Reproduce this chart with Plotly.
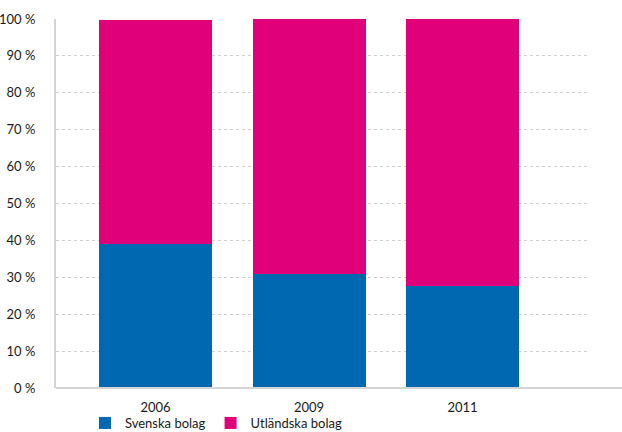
import plotly.graph_objects as go

years = ["2006", "2009", "2011"]
svenska = [39.1, 31.0, 27.6]
utlandska = [60.6, 69.0, 72.4]
y_ticks = [0, 10, 20, 30, 40, 50, 60, 70, 80, 90, 100]
y_labels = [f"{v} %" for v in y_ticks]

BLUE = "#0068B0"
MAGENTA = "#E0007A"
FONT = "Lato, 'Open Sans', sans-serif"

fig = go.Figure()
fig.add_trace(go.Bar(x=years, y=svenska, name="Svenska bolag", marker_color=BLUE,
                     marker_line_width=0, width=0.736))
fig.add_trace(go.Bar(x=years, y=utlandska, name="Utländska bolag", marker_color=MAGENTA,
                     marker_line_width=0, width=0.736))

fig.update_layout(
    barmode="stack",
    width=622, height=432,
    margin=dict(l=56, r=32, t=19, b=44, autoexpand=False),
    plot_bgcolor="white", paper_bgcolor="white",
    font=dict(family=FONT, size=13, color="#1a1a1a"),
    showlegend=True,
    legend=dict(orientation="h", xref="container", yref="container",
                x=85 / 622, xanchor="left", y=1 - 423 / 432, yanchor="middle",
                font=dict(size=13, color="#1a1a1a"), itemwidth=30,
                traceorder="normal", bgcolor="rgba(0,0,0,0)", tracegroupgap=0),
    xaxis=dict(type="category", range=[-0.648, 2.83], showgrid=False,
               showline=False, ticks="", ticklabelstandoff=10, automargin=False,
               tickfont=dict(size=13, color="#1a1a1a")),
    yaxis=dict(range=[0, 100], tickvals=y_ticks, ticktext=y_labels, automargin=False,
               showgrid=True, gridcolor="#cfcfcf", griddash="3px,3px", gridwidth=1,
               zeroline=False, showline=True, linecolor="#d4d4d4", linewidth=2,
               ticks="", ticklabelstandoff=16,
               tickfont=dict(size=13, color="#1a1a1a")),
)

# x-axis baseline extending to the right edge
fig.add_shape(type="line", xref="paper", yref="paper", x0=0, x1=(622 - 56) / 534,
              y0=0, y1=0, line=dict(color="#d4d4d4", width=2), layer="above")

fig.write_html("out.html")
